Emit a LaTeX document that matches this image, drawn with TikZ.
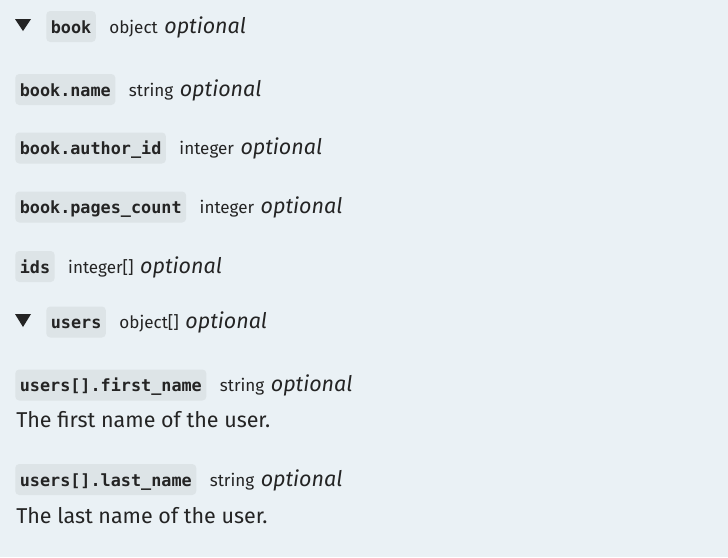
\documentclass[tikz,border=0pt]{standalone}
\usepackage{fontspec}
\setmainfont{Fira Sans}
\newfontfamily\chipfont{DejaVu Sans Mono}
\usetikzlibrary{positioning}
\definecolor{bgc}{RGB}{234,241,245}
\definecolor{chipc}{RGB}{221,228,231}
\definecolor{txt}{RGB}{36,36,36}
\tikzset{
  chip/.style={fill=chipc, rounded corners=3pt, anchor=west, inner xsep=3.4pt, inner ysep=5.25pt,
    text height=11.25pt, text depth=1.5pt, text=txt, font=\chipfont\bfseries\fontsize{12.6}{14}\selectfont},
  typ/.style={anchor=base west, inner sep=0pt, text=txt, font=\fontsize{12.8}{14}\selectfont},
  opt/.style={anchor=base west, inner sep=0pt, text=txt, font=\itshape\fontsize{16.1}{18}\selectfont},
  desc/.style={anchor=base west, inner sep=0pt, text=txt, font=\fontsize{16.1}{18}\selectfont},
  tri/.style={fill=txt, draw=none}
}
\begin{document}
\begin{tikzpicture}[x=0.75pt,y=-0.75pt]
\useasboundingbox (0,0) rectangle (728,557);
\fill[bgc] (0,0) rectangle (728,557);
% row 1
\fill[tri] (15,19) -- (31,19) -- (23,31) -- cycle;
\node[chip] (c1) at (46,26.5) {book};
\node[typ] (t1) at ([xshift=9.75pt]c1.base east) {object};
\node[opt] (o1) at ([xshift=4.5pt]t1.base east) {optional};
% row 2
\node[chip] (c2) at (15,89.5) {book.name};
\node[typ] (t2) at ([xshift=9.75pt]c2.base east) {string};
\node[opt] (o2) at ([xshift=4.5pt]t2.base east) {optional};
% row 3
\node[chip] (c3) at (15,148) {book.author\_id};
\node[typ] (t3) at ([xshift=9.75pt]c3.base east) {integer};
\node[opt] (o3) at ([xshift=4.5pt]t3.base east) {optional};
% row 4
\node[chip] (c4) at (15,207) {book.pages\_count};
\node[typ] (t4) at ([xshift=9.75pt]c4.base east) {integer};
\node[opt] (o4) at ([xshift=4.5pt]t4.base east) {optional};
% row 5
\node[chip] (c5) at (15,266.5) {ids};
\node[typ] (t5) at ([xshift=9.75pt]c5.base east) {integer[]};
\node[opt] (o5) at ([xshift=4.5pt]t5.base east) {optional};
% row 6
\fill[tri] (15,314) -- (31,314) -- (23,327) -- cycle;
\node[chip] (c6) at (46,322) {users};
\node[typ] (t6) at ([xshift=9.75pt]c6.base east) {object[]};
\node[opt] (o6) at ([xshift=4.5pt]t6.base east) {optional};
% row 7
\node[chip] (c7) at (15,385) {users[].first\_name};
\node[typ] (t7) at ([xshift=9.75pt]c7.base east) {string};
\node[opt] (o7) at ([xshift=4.5pt]t7.base east) {optional};
\node[desc] (d7) at (16,427) {The first name of the user.};
% row 8
\node[chip] (c8) at (15,479.5) {users[].last\_name};
\node[typ] (t8) at ([xshift=9.75pt]c8.base east) {string};
\node[opt] (o8) at ([xshift=4.5pt]t8.base east) {optional};
\node[desc] (d8) at (16,523) {The last name of the user.};
\end{tikzpicture}
\end{document}
